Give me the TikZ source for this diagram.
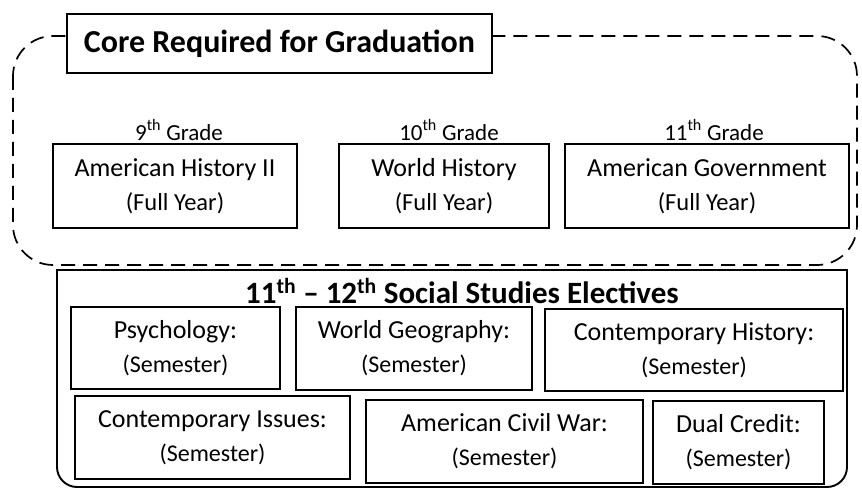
\documentclass[tikz,border=0pt]{standalone}
\usepackage{fontspec}
\setmainfont{Carlito}
\begin{document}
\begin{tikzpicture}[x=1pt,y=-1pt,
  box/.style={draw, line width=1.4pt, inner sep=0pt, align=center, fill=white},
  cbox/.style={box, font=\fontsize{26}{34}\selectfont},
  gradelbl/.style={font=\fontsize{23}{26}\selectfont, inner sep=0pt},
  dashbox/.style={line width=1.7pt, dash pattern=on 14pt off 8pt, rounded corners=40pt},
  outer/.style={line width=1.9pt}]
\useasboundingbox (0,0) rectangle (862,489);
% dashed core frame
\draw[dashbox] (13,36) rectangle (857,265);
\node[box, minimum width=425pt, minimum height=59pt, font=\fontsize{32}{36}\bfseries\selectfont] (core) at (279.5,43.5) {Core Required for Graduation};
% grade row
\node[cbox, minimum width=244pt, minimum height=84pt] (ah) at (175,186) {American History II\\{\fontsize{24.5}{34}\selectfont (Full Year)}};
\node[cbox, minimum width=210pt, minimum height=84pt] (wh) at (444,186) {World History\\{\fontsize{24.5}{34}\selectfont (Full Year)}};
\node[cbox, minimum width=284pt, minimum height=84pt] (ag) at (707,186) {American Government\\{\fontsize{24.5}{34}\selectfont (Full Year)}};
\node[gradelbl] (g9) at (179,130) {9\textsuperscript{th} Grade};
\node[gradelbl] (g10) at (449,130) {10\textsuperscript{th} Grade};
\node[gradelbl] (g11) at (714,130) {11\textsuperscript{th} Grade};
% electives frame
\draw[outer] (57,270) -- (57,300) {[rounded corners=20pt] -- (57,487) -- (847,487) -- (847,300)} -- (847,270) -- cycle;
\node[font=\fontsize{31}{34}\bfseries\selectfont, inner sep=0pt] (el) at (462,291) {11\textsuperscript{th} -- 12\textsuperscript{th} Social Studies Electives};
% row 2
\node[cbox, minimum width=209pt, minimum height=82pt] (psy) at (175.5,348) {Psychology:\\{\fontsize{24}{35}\selectfont (Semester)}};
\node[cbox, minimum width=236pt, minimum height=83pt] (wg) at (414,348.5) {World Geography:\\{\fontsize{24}{35}\selectfont (Semester)}};
\node[cbox, minimum width=298pt, minimum height=82pt] (ch) at (694,350) {Contemporary History:\\{\fontsize{24}{35}\selectfont (Semester)}};
% row 3
\node[cbox, minimum width=275pt, minimum height=83pt] (ci) at (212.5,437.5) {Contemporary Issues:\\{\fontsize{24}{35}\selectfont (Semester)}};
\node[cbox, minimum width=277pt, minimum height=83pt] (acw) at (504.5,441.5) {American Civil War:\\{\fontsize{24}{35}\selectfont (Semester)}};
\node[cbox, minimum width=171pt, minimum height=83pt] (dc) at (738.5,442.5) {Dual Credit:\\{\fontsize{24}{35}\selectfont (Semester)}};
\end{tikzpicture}
\end{document}
